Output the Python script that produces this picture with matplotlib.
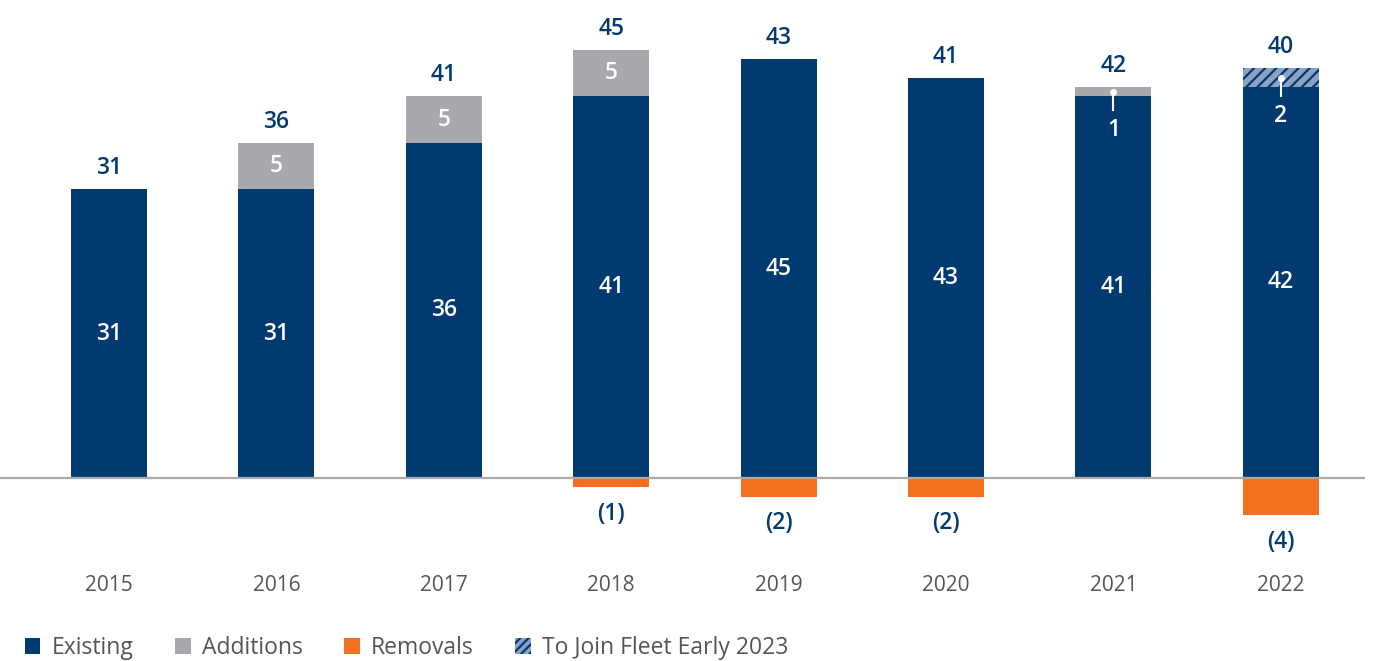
import matplotlib
matplotlib.use("Agg")
import matplotlib.pyplot as plt
from matplotlib.patches import Patch
import numpy as np

years = ["2015", "2016", "2017", "2018", "2019", "2020", "2021", "2022"]
existing = [31, 31, 36, 41, 45, 43, 41, 42]
additions = [0, 5, 5, 5, 0, 0, 1, 0]
removals = [0, 0, 0, -1, -2, -2, 0, -4]
to_join = [0, 0, 0, 0, 0, 0, 0, 2]
totals = [31, 36, 41, 45, 43, 41, 42, 40]

NAVY = "#003A70"
GRAY = "#A7A9AC"
ORANGE = "#F37021"
HATCH_BG = "#8DA2C2"
TXT = "#555555"

plt.rcParams["font.family"] = ["Open Sans", "DejaVu Sans"]
plt.rcParams["hatch.color"] = NAVY
plt.rcParams["hatch.linewidth"] = 1.6

fig = plt.figure(figsize=(13.82, 6.61), dpi=100)
ax = fig.add_axes([0, 1 - 620 / 661, 1, 620 / 661])
x = np.arange(len(years))
w = 0.455

ex = np.array(existing)
ad = np.array(additions)
rm = np.array(removals)
tj = np.array(to_join)

ax.bar(x, ex, w, color=NAVY, zorder=2)
ax.bar(x, ad, w, bottom=ex, color=GRAY, zorder=2)
ax.bar(x, tj, w, bottom=ex + ad, color=HATCH_BG, hatch="///", edgecolor=NAVY, linewidth=0, zorder=2)
ax.bar(x, rm, w, color=ORANGE, zorder=2)

xl, xr = -109 / 167.4, (1382 - 109) / 167.4
ax.hlines(0, xl, 7.50, color="#AAAAAA", lw=1.6, zorder=3)

ax.set_xlim(xl, xr)
ax.set_ylim(-(620 - 478) / 9.31, 478 / 9.31)
ax.axis("off")

NUMFS = 16.5
top_off = 2.25
for i in range(len(years)):
    top = ex[i] + ad[i] + tj[i]
    ax.text(x[i], top + top_off, str(totals[i]), ha="center", va="center",
            color=NAVY, fontsize=NUMFS, fontweight="semibold")
    ax.text(x[i], ex[i] / 2, str(existing[i]), ha="center", va="center",
            color="white", fontsize=NUMFS, fontweight="semibold")
    small = ad[i] + tj[i]
    if small >= 3:
        ax.text(x[i], ex[i] + small / 2, str(small), ha="center", va="center",
                color="white", fontsize=NUMFS, fontweight="semibold")
    elif small > 0:
        ymid = ex[i] + small / 2
        ax.plot([x[i]], [ymid], "o", color="white", ms=4, zorder=4)
        ax.plot([x[i], x[i]], [ymid, ymid - 2.0], color="white", lw=1.5, zorder=4)
        ax.text(x[i], ymid - 4.1, str(small), ha="center", va="center",
                color="white", fontsize=NUMFS, fontweight="semibold")
    if rm[i] < 0:
        ax.text(x[i], rm[i] - 2.85, f"({-removals[i]})", ha="center", va="center",
                color=NAVY, fontsize=NUMFS, fontweight="semibold")
    ax.text(x[i], -11.5, years[i], ha="center", va="center", color=TXT, fontsize=15)

handles = [
    Patch(facecolor=NAVY, label="Existing"),
    Patch(facecolor=GRAY, label="Additions"),
    Patch(facecolor=ORANGE, label="Removals"),
    Patch(facecolor=HATCH_BG, hatch="////", edgecolor=NAVY, linewidth=0, label="To Join Fleet Early 2023"),
]
leg = fig.legend(handles=handles, loc="lower left", bbox_to_anchor=(0.003, -0.03), ncol=4,
                 frameon=False, fontsize=16.5, handlelength=0.68, handleheight=0.68,
                 handletextpad=0.5, columnspacing=1.8, labelcolor=TXT)

fig.savefig("out.png", dpi=100)
